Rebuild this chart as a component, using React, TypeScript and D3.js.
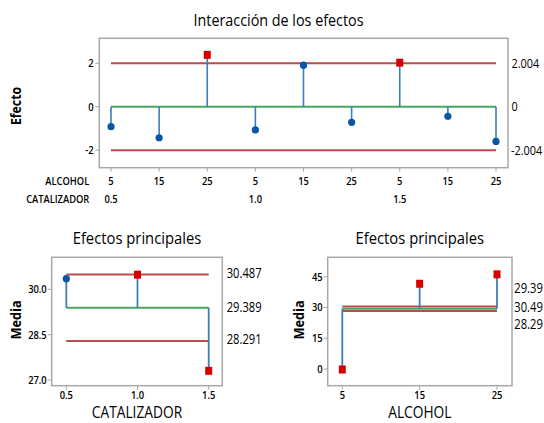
import React from "react";
import * as d3 from "d3";

// ---------- Data ----------
const alcoholLevels = ["5", "15", "25", "5", "15", "25", "5", "15", "25"];
const catalizadorLabels = ["0.5", "1.0", "1.5"];
const interactionEffects = [-0.92, -1.43, 2.41, -1.07, 1.91, -0.72, 2.05, -0.44, -1.6];
const interactionLimit = 2.004;
const interactionTicks = [-2, 0, 2];

const catLevels = [0.5, 1.0, 1.5];
const catMeans = [30.35, 30.5, 27.32];
const catTicks = [27.0, 28.5, 30.0];

const alcLevels = [5, 15, 25];
const alcMeans = [0, 41.8, 46.4];
const alcTicks = [0, 15, 30, 45];

const grandMean = 29.389;
const upperLimit = 30.487;
const lowerLimit = 28.291;
const catLimitLabels = ["30.487", "29.389", "28.291"];
const alcLimitLabels = ["29.39", "30.49", "28.29"];

// ---------- Style ----------
const FONT = "'Open Sans', 'Noto Sans', sans-serif";
const RED_LINE = "#b74d4c";
const GREEN = "#45a85a";
const STEM = "#3d7cc0";
const DOT = "#0a55a8";
const SQUARE = "#d60000";
const FRAME = "#a8a8a8";
const TEXT = "#000";

type TProps = {
  x: number;
  y: number;
  anchor?: "start" | "middle" | "end";
  size: number;
  weight?: number;
  sx?: number;
  rotate?: number;
  mid?: boolean;
  children: React.ReactNode;
};
function T({ x, y, anchor = "start", size, weight = 400, sx = 0.85, rotate = 0, mid = false, children }: TProps) {
  return (
    <text
      transform={`translate(${x},${y}) rotate(${rotate}) scale(${sx},1)`}
      textAnchor={anchor}
      fontSize={size}
      fontWeight={weight}
      fontFamily={FONT}
      fill={TEXT}
      dy={mid ? "0.35em" : undefined}
    >
      {children}
    </text>
  );
}

function Marker({ x, y, red }: { x: number; y: number; red: boolean }) {
  return red ? (
    <rect x={x - 3.5} y={y - 3.5} width={7} height={8} fill={SQUARE} />
  ) : (
    <circle cx={x} cy={y} r={3.6} fill={DOT} />
  );
}

function InteractionChart() {
  const L = 99.3, R = 508, Tp = 38.3, B = 167.7;
  const x = d3.scaleLinear().domain([0, interactionEffects.length - 1]).range([111, 496]);
  const y = d3.scaleLinear().domain([-2.81, 3.15]).range([B, Tp]);
  const x0 = x(0), x1 = x(interactionEffects.length - 1);
  return (
    <g>
      <T x={278.5} y={26} anchor="middle" size={16.5} sx={0.87}>Interacción de los efectos</T>
      <T x={21} y={106} anchor="middle" size={14} weight={700} rotate={-90} sx={0.88}>Efecto</T>
      <rect x={L} y={Tp} width={R - L} height={B - Tp} fill="none" stroke={FRAME} strokeWidth={1.5} />
      {interactionTicks.map((t) => (
        <g key={t}>
          <line x1={L - 4} x2={L} y1={y(t)} y2={y(t)} stroke={FRAME} strokeWidth={1} />
          <T x={93.5} y={y(t)} anchor="end" size={11} weight={600} mid>{t}</T>
        </g>
      ))}
      <line x1={x0} x2={x1} y1={y(interactionLimit)} y2={y(interactionLimit)} stroke={RED_LINE} strokeWidth={2} />
      <line x1={x0} x2={x1} y1={y(-interactionLimit)} y2={y(-interactionLimit)} stroke={RED_LINE} strokeWidth={2} />
      <line x1={x0} x2={x1} y1={y(0)} y2={y(0)} stroke={GREEN} strokeWidth={2} />
      {interactionEffects.map((v, i) => (
        <g key={i}>
          <line x1={x(i)} x2={x(i)} y1={y(0)} y2={y(v)} stroke={STEM} strokeWidth={1.6} />
          <Marker x={x(i)} y={y(v)} red={Math.abs(v) > interactionLimit} />
          <line x1={x(i)} x2={x(i)} y1={B} y2={B + 4} stroke={FRAME} strokeWidth={1} />
          <T x={x(i)} y={185} anchor="middle" size={11} weight={600}>{alcoholLevels[i]}</T>
        </g>
      ))}
      {catalizadorLabels.map((c, k) => (
        <T key={c} x={x(k * 3)} y={203.3} anchor="middle" size={11} weight={600}>{c}</T>
      ))}
      <T x={89.3} y={185} anchor="end" size={11} weight={600}>ALCOHOL</T>
      <T x={89.3} y={203.3} anchor="end" size={11} weight={600}>CATALIZADOR</T>
      <T x={511.5} y={y(interactionLimit)} size={13} sx={0.84} mid>{interactionLimit.toFixed(3)}</T>
      <T x={511.5} y={y(0)} size={13} sx={0.84} mid>0</T>
      <T x={511} y={y(-interactionLimit)} size={13} sx={0.84} mid>{(-interactionLimit).toFixed(3)}</T>
    </g>
  );
}

type MainProps = {
  L: number; R: number;
  levels: number[]; means: number[]; ticks: number[];
  xDomain: [number, number]; xRange: [number, number];
  yDomain: [number, number]; yRange: [number, number];
  tickFmt: (v: number) => string; levelFmt: (v: number) => string;
  xTitle: string; limitLabels: string[]; labelYs: number[]; labelX: number;
  yTitleX: number;
};
function MainEffects(p: MainProps) {
  const Tp = 257.3, B = 385.7;
  const x = d3.scaleLinear().domain(p.xDomain).range(p.xRange);
  const y = d3.scaleLinear().domain(p.yDomain).range(p.yRange);
  const xs = x(p.levels[0]), xe = x(p.levels[p.levels.length - 1]);
  const cx = (p.L + p.R) / 2;
  return (
    <g>
      <T x={cx} y={244.3} anchor="middle" size={17} sx={0.87}>Efectos principales</T>
      <T x={p.yTitleX} y={320} anchor="middle" size={14.5} weight={700} rotate={-90} sx={0.88}>Media</T>
      <T x={cx} y={417.5} anchor="middle" size={16} sx={0.86}>{p.xTitle}</T>
      <rect x={p.L} y={Tp} width={p.R - p.L} height={B - Tp} fill="none" stroke={FRAME} strokeWidth={1.5} />
      {p.ticks.map((t) => (
        <g key={t}>
          <line x1={p.L - 4} x2={p.L} y1={y(t)} y2={y(t)} stroke={FRAME} strokeWidth={1} />
          <T x={p.L - 5} y={y(t)} anchor="end" size={11} weight={600} mid>{p.tickFmt(t)}</T>
        </g>
      ))}
      <line x1={xs} x2={xe} y1={y(upperLimit)} y2={y(upperLimit)} stroke={RED_LINE} strokeWidth={2} />
      <line x1={xs} x2={xe} y1={y(lowerLimit)} y2={y(lowerLimit)} stroke={RED_LINE} strokeWidth={2} />
      <line x1={xs} x2={xe} y1={y(grandMean)} y2={y(grandMean)} stroke={GREEN} strokeWidth={2} />
      {p.levels.map((lv, i) => {
        const v = p.means[i];
        const red = v > upperLimit || v < lowerLimit;
        return (
          <g key={lv}>
            <line x1={x(lv)} x2={x(lv)} y1={y(grandMean)} y2={y(v)} stroke={STEM} strokeWidth={1.8} />
            <Marker x={x(lv)} y={y(v)} red={red} />
            <line x1={x(lv)} x2={x(lv)} y1={B} y2={B + 4} stroke={FRAME} strokeWidth={1} />
            <T x={x(lv)} y={399} anchor="middle" size={11} weight={600}>{p.levelFmt(lv)}</T>
          </g>
        );
      })}
      {p.limitLabels.map((s, i) => (
        <T key={s} x={p.labelX} y={p.labelYs[i]} size={14} sx={0.8} mid>{s}</T>
      ))}
    </g>
  );
}

export default function App() {
  return (
    <svg width={544} height={423} style={{ position: "absolute", left: 0, top: 0, background: "#fff" }}>
      <rect width={544} height={423} fill="#fff" />
      <InteractionChart />
      <MainEffects
        L={51.7} R={222.3}
        levels={catLevels} means={catMeans} ticks={catTicks}
        xDomain={[0.5, 1.5]} xRange={[66.3, 208.7]}
        yDomain={[27, 30]} yRange={[380, 289.3]}
        tickFmt={(v) => v.toFixed(1)} levelFmt={(v) => v.toFixed(1)}
        xTitle="CATALIZADOR" limitLabels={catLimitLabels}
        labelYs={[273.3, 307, 339]} labelX={226.7} yTitleX={20.5}
      />
      <MainEffects
        L={327.7} R={512}
        levels={alcLevels} means={alcMeans} ticks={alcTicks}
        xDomain={[5, 25]} xRange={[342.3, 497]}
        yDomain={[0, 45]} yRange={[369, 276.7]}
        tickFmt={(v) => String(v)} levelFmt={(v) => String(v)}
        xTitle="ALCOHOL" limitLabels={alcLimitLabels}
        labelYs={[288.3, 307.3, 324]} labelX={514.3} yTitleX={303.7}
      />
    </svg>
  );
}
